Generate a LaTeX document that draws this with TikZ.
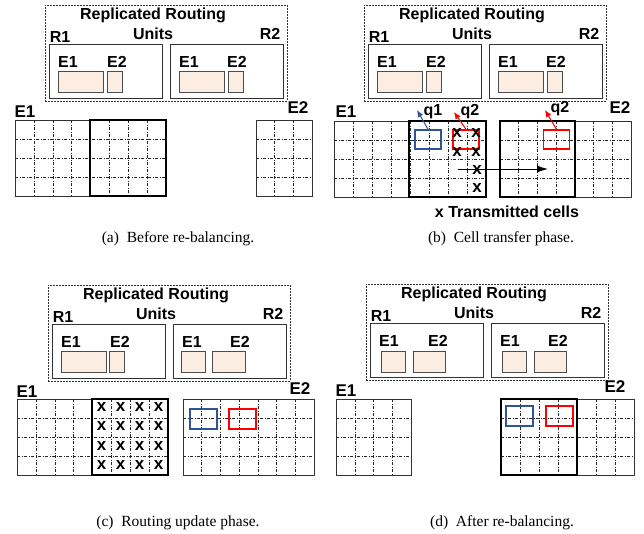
\documentclass[tikz,border=0pt]{standalone}
\usepackage{fontspec}
\setmainfont{Liberation Serif}
\setsansfont{Liberation Sans}
\usetikzlibrary{arrows.meta}
\definecolor{entryfill}{RGB}{252,237,227}
\definecolor{qblue}{RGB}{47,85,151}

\begin{document}
\begin{tikzpicture}[
    x=1pt, y=-1pt,
    lbl/.style={font=\sffamily\bfseries\fontsize{16}{18}\selectfont, inner sep=0pt, anchor=base},
    biglbl/.style={font=\sffamily\bfseries\fontsize{17}{19}\selectfont, inner sep=0pt, anchor=base},
    caption/.style={font=\fontsize{15.5}{18}\selectfont, inner sep=0pt, anchor=base},
    unitsbox/.style={draw=black!80, line width=0.6pt, dash pattern=on 2pt off 1pt, minimum width=242pt, minimum height=96pt, inner sep=0pt},
    routerbox/.style={draw=black!80, line width=0.8pt, minimum width=113pt, minimum height=54pt, inner sep=0pt},
    entrybox/.style={draw=black!70, line width=0.8pt, fill=entryfill},
    cellline/.style={black!85, line width=0.5pt, dash pattern=on 3pt off 1.5pt on 1pt off 1.5pt},
    gridframe/.style={draw=black!80, line width=0.8pt},
    movebox/.style={draw=black, line width=2.2pt},
    qbox/.style={rectangle, line width=1.3pt, minimum width=26pt, minimum height=19pt, inner sep=0pt},
    qarrow/.style={-{Latex[length=7pt,width=6pt]}, line width=1pt},
    xmark/.style={font=\sffamily\bfseries\fontsize{17}{17}\selectfont, inner sep=0pt},
    arrow/.style={-{Latex[length=11pt,width=7pt]}, line width=0.8pt}
]
\useasboundingbox (0,0) rectangle (644,533);

% Replicated routing units (same in every panel)
\foreach \p/\dx/\dy in {a/0/0, b/319/0, c/3/280, d/321/279} {
  \begin{scope}[shift={(\dx,\dy)}]
    \node[unitsbox] (units\p) at (166,53) {};
    \node[routerbox] (r1\p) at (105.5,71) {};
    \node[routerbox] (r2\p) at (226.5,71) {};
    \node[lbl] (title\p) at (153,19.5) {Replicated Routing};
    \node[lbl] (unitslbl\p) at (153,39) {Units};
    \node[lbl] (r1lbl\p) at (60,42) {R1};
    \node[lbl] (r2lbl\p) at (270,39) {R2};
    \node[lbl, anchor=base west] (r1e1\p) at (58,67) {E1};
    \node[lbl, anchor=base west] (r1e2\p) at (107,67) {E2};
    \node[lbl, anchor=base west] (r2e1\p) at (179,67) {E1};
    \node[lbl, anchor=base west] (r2e2\p) at (227,67) {E2};
  \end{scope}
}

% Routing entries: left/right/top
\foreach \lx/\rx/\ty in {58/103/71, 107/122/71, 179/224/71, 228/243/71,
    377/422/71, 426/441/71, 498/543/71, 547/562/71,
    61/106/351, 109/124/351, 181/205/351, 212/245/351,
    381/405/351, 413/445/351, 502/526/351, 534/566/351}
  \draw[entrybox] (\lx,\ty) rectangle (\rx,{\ty+21});

% Cell grids: left/top/columns/width
\foreach \gx/\gy/\gn/\gw in {15/120/8/151, 256/120/3/56, 334/121/8/152, 500/121/7/131,
    17/399/8/151, 183/399/7/131, 336/399/4/75, 501/399/7/133} {
  \foreach \c in {1,...,\gn}
    \draw[cellline] ({\gx+\c*\gw/\gn},\gy) -- ++(0,76);
  \foreach \r in {1,2,3}
    \draw[cellline] (\gx,{\gy+\r*19}) -- ++(\gw,0);
  \draw[gridframe] (\gx,\gy) rectangle ++(\gw,76);
}

% Moved partition
\foreach \bx/\by/\bw in {90/120/76, 409/121/77, 500/121/75, 92/399/76, 501/399/76}
  \draw[movebox] (\bx,\by) rectangle ++(\bw,76);

% Grid labels
\node[biglbl] (ge1a) at (25,117) {E1};
\node[biglbl] (ge2a) at (298,113) {E2};
\node[biglbl] (ge1b) at (346,117) {E1};
\node[biglbl] (ge2b) at (620,113) {E2};
\node[biglbl] (ge1c) at (27,397) {E1};
\node[biglbl] (ge2c) at (300,394) {E2};
\node[biglbl] (ge1d) at (346,396) {E1};
\node[biglbl] (ge2d) at (615,392) {E2};

% Cell transfer: queries and transmitted cells
\node[qbox, draw=qblue] (q1b) at (428,139.5) {};
\node[qbox, draw=red] (q2b) at (466,139.5) {};
\node[qbox, draw=red] (q2e2b) at (556.5,139.5) {};
\node[lbl] (q1lbl) at (433,115) {q1};
\node[lbl] (q2lbl) at (470,115) {q2};
\node[lbl] (q2e2lbl) at (560,112) {q2};
\coordinate (q1tip) at (417,110);
\coordinate (q2tip) at (454,112);
\coordinate (q2e2tip) at (545,110);
\draw[qarrow, qblue] (q1b.north) -- (q1tip);
\draw[qarrow, red] (q2b.north) -- (q2tip);
\draw[qarrow, red] (q2e2b.north) -- (q2e2tip);

\coordinate (movestart) at (458,169);
\coordinate (moveend) at (548,169);
\draw[arrow] (movestart) -- (moveend);
\foreach \mx/\my [count=\i] in {457/133, 476/133, 457/152, 476/152, 477/170, 477/188}
  \node[xmark] (xb\i) at (\mx,\my) {x};
\node[lbl] (legend) at (507,217) {x Transmitted cells};

% Routing update: all cells moved
\foreach \mx [count=\i] in {101.5,120.5,139.5,158.5}
  \foreach \my [count=\j] in {407.5,426.5,445.5,464.5}
    \node[xmark] (xc\i\j) at (\mx,\my) {x};
\node[qbox, draw=qblue, minimum width=27pt, minimum height=20pt] (q1c) at (203.5,419) {};
\node[qbox, draw=red, minimum width=27pt, minimum height=20pt] (q2c) at (242.5,419) {};

% After re-balancing
\node[qbox, draw=qblue, minimum width=27pt, minimum height=20pt] (q1d) at (519.5,416) {};
\node[qbox, draw=red, minimum width=27pt, minimum height=20pt] (q2d) at (559.5,416) {};

% Captions
\node[caption] (capa) at (178,242) {(a)\ \ Before re-balancing.};
\node[caption] (capb) at (501,242) {(b)\ \ Cell transfer phase.};
\node[caption] (capc) at (178,526) {(c)\ \ Routing update phase.};
\node[caption] (capd) at (502,526) {(d)\ \ After re-balancing.};
\end{tikzpicture}
\end{document}
